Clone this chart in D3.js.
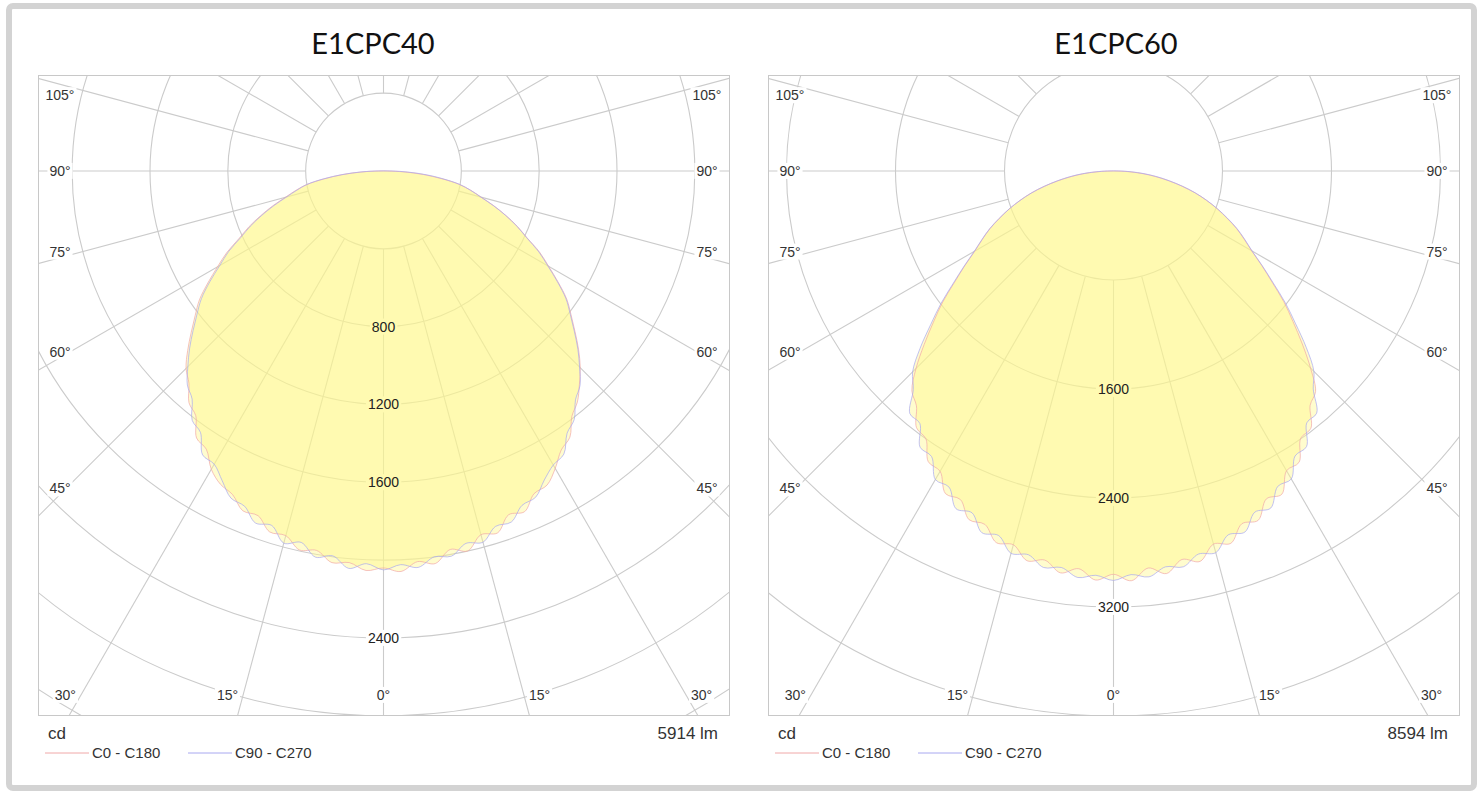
<!DOCTYPE html>
<html>
<head>
<meta charset="utf-8">
<script src="https://cdn.jsdelivr.net/npm/d3@7"></script>
<style>
  body { margin: 0; background: #fff; }
  text { font-family: "Liberation Sans", Arial, sans-serif; }
</style>
</head>
<body>
<script>
// gamma angles (deg), 0 = straight down, negative = left half
const gammas = [-90,-87.5,-85,-82.5,-80,-77.5,-75,-72.5,-70,-67.5,-65,-62.5,-60,-57.5,-55,-52.5,-50,-47.5,-45,-42.5,-40,-37.5,-35,-32.5,-30,-27.5,-25,-22.5,-20,-17.5,-15,-12.5,-10,-7.5,-5,-2.5,
  0,2.5,5,7.5,10,12.5,15,17.5,20,22.5,25,27.5,30,32.5,35,37.5,40,42.5,45,47.5,50,52.5,55,57.5,60,62.5,65,67.5,70,72.5,75,77.5,80,82.5,85,87.5,90]

const titles = ["E1CPC40", "E1CPC60"]
const lumens = ["5914 lm", "8594 lm"]
const seriesNames = ["C0 - C180", "C90 - C270"]
const seriesColors = ["#f0a8a8", "#a8a8f0"]

// E1CPC40, cd
const e40_c0 = [25,110,210,305,400,462,522,598,672,748,818,908,985,1070,1155,1220,1290,1365,1435,1480,1555,1585,1675,1695,1770,1815,1835,1890,1885,1945,1940,1995,1980,2030,2020,2055,
  2040,2060,2015,2035,1975,2000,1935,1950,1880,1895,1830,1820,1765,1700,1670,1590,1550,1490,1430,1360,1285,1215,1150,1065,980,905,815,745,670,595,520,460,395,300,205,105,20]
const e40_c90 = [40,120,215,312,400,456,516,590,665,740,810,898,972,1058,1142,1208,1278,1352,1422,1492,1530,1615,1640,1730,1740,1795,1855,1865,1925,1910,1980,1955,2015,1995,2050,2020,
  2050,2025,2045,2000,2010,1960,1975,1915,1920,1860,1850,1790,1745,1725,1645,1610,1535,1495,1425,1355,1280,1210,1145,1060,975,900,812,742,668,592,518,458,398,310,220,125,45]

// E1CPC60, cd
const e60_c0 = [25,110,215,312,415,520,625,720,815,905,1000,1085,1175,1295,1425,1580,1725,1885,2050,2190,2250,2375,2400,2530,2545,2670,2660,2770,2760,2860,2840,2930,2900,2975,2930,3005,
  2960,3010,2925,2980,2895,2935,2835,2865,2755,2775,2655,2675,2540,2535,2395,2380,2245,2195,2045,1880,1720,1575,1420,1290,1170,1080,995,900,810,715,620,515,410,310,210,105,20]
const e60_c90 = [45,125,228,325,420,522,624,720,815,908,1003,1088,1180,1300,1435,1595,1750,1925,2085,2175,2325,2335,2475,2485,2615,2615,2735,2715,2825,2805,2905,2885,2955,2935,2995,2970,
  3005,2965,2990,2930,2950,2880,2900,2800,2820,2710,2730,2610,2610,2480,2470,2330,2320,2170,2080,1920,1745,1590,1430,1295,1175,1085,1000,905,812,718,622,520,418,322,225,130,50]

const rings40 = [400,800,1200,1600,2000,2400,2800,3200,3600]
const rings60 = [800,1600,2400,3200,4000,4800]
const ringLabels40 = [800,1200,1600,2400]
const ringLabels60 = [1600,2400,3200]
const spokeAngles = [0,15,30,45,60,75,90,105,120,135,150,165,180,195,210,225,240,255,270,285,300,315,330,345]
const sideAngles = [105,90,75,60,45]
const bottomAngles = [30,15,0]

const charts = [
  {title: titles[0], lm: lumens[0], series: [e40_c0, e40_c90], rings: rings40, labels: ringLabels40, ref: 2400, refPx: 467, x0: 38, titleX: 373},
  {title: titles[1], lm: lumens[1], series: [e60_c0, e60_c90], rings: rings60, labels: ringLabels60, ref: 3200, refPx: 436, x0: 768, titleX: 1116}
]

const W = 1482, H = 793
const frameY = 75, frameW = 691, frameH = 640, centerY = 171

const svg = d3.select("body").append("svg")
    .attr("width", W)
    .attr("height", H)

svg.append("rect")
    .attr("x", 9).attr("y", 6)
    .attr("width", 1465).attr("height", 782)
    .attr("rx", 4)
    .style("fill", "none")
    .style("stroke", "#d3d3d3")
    .style("stroke-width", 6)

const defs = svg.append("defs")

charts.forEach(drawChart)

function drawChart(c, i) {
  const x0 = c.x0, y1 = frameY + frameH
  const cx = x0 + frameW / 2, cy = centerY
  const r = d3.scaleLinear().domain([0, c.ref]).range([0, c.refPx])
  const toRad = Math.PI / 180

  defs.append("clipPath").attr("id", `clip${i}`)
    .append("rect").attr("x", x0).attr("y", frameY).attr("width", frameW).attr("height", frameH)
  const mask = defs.append("mask").attr("id", `mask${i}`)
      .attr("maskUnits", "userSpaceOnUse")
      .attr("x", 0).attr("y", 0).attr("width", W).attr("height", H)
  mask.append("rect").attr("x", 0).attr("y", 0).attr("width", W).attr("height", H).style("fill", "#fff")

  const g = svg.append("g")

  g.append("text")
      .attr("x", c.titleX).attr("y", 54)
      .attr("text-anchor", "middle")
      .style("font-family", "Lato, 'Open Sans', sans-serif")
      .style("font-size", "29px")
      .style("fill", "#111")
      .text(c.title)

  const grid = g.append("g").attr("clip-path", `url(#clip${i})`)
    .append("g").attr("mask", `url(#mask${i})`)

  grid.selectAll("circle")
    .data(c.rings)
    .enter()
    .append("circle")
      .attr("cx", cx).attr("cy", cy)
      .attr("r", function (d) { return r(d) })
      .style("fill", "none")
      .style("stroke", "#cbcbcb")
      .style("stroke-width", 1.1)

  const inner = r(c.rings[0])
  grid.selectAll("line")
    .data(spokeAngles)
    .enter()
    .append("line")
      .attr("x1", function (d) { return cx + inner * Math.sin(d * toRad) })
      .attr("y1", function (d) { return cy + inner * Math.cos(d * toRad) })
      .attr("x2", function (d) { return cx + 1000 * Math.sin(d * toRad) })
      .attr("y2", function (d) { return cy + 1000 * Math.cos(d * toRad) })
      .style("stroke", "#cbcbcb")
      .style("stroke-width", 1.1)

  // luminous intensity curves
  const curve = d3.lineRadial()
      .angle(function (d) { return Math.PI - d.g * toRad })
      .radius(function (d) { return r(d.v) })
      .curve(d3.curveCatmullRomClosed.alpha(0.5))

  const paths = c.series.map(function (vals) {
    return curve(gammas.map(function (gm, k) { return {g: gm, v: vals[k]} }))
  })

  paths.forEach(function (p) {
    g.append("path")
        .attr("transform", `translate(${cx},${cy})`)
        .attr("d", p)
        .style("fill", "#fff88a")
        .style("fill-opacity", 0.42)
        .style("stroke", "none")
  })
  paths.forEach(function (p, k) {
    g.append("path")
        .attr("transform", `translate(${cx},${cy})`)
        .attr("d", p)
        .style("fill", "none")
        .style("stroke", seriesColors[k])
        .style("stroke-width", 0.7)
  })

  g.append("rect")
      .attr("x", x0 + 0.5).attr("y", frameY + 0.5)
      .attr("width", frameW).attr("height", frameH)
      .style("fill", "none")
      .style("stroke", "#c8c8c8")

  const holes = []

  // value labels on the 0 deg axis
  g.selectAll("text.val")
    .data(c.labels)
    .enter()
    .append("text")
      .attr("class", "val")
      .attr("x", cx)
      .attr("y", function (d) { return cy + r(d) })
      .attr("dy", "0.35em")
      .attr("text-anchor", "middle")
      .style("font-size", "14px")
      .style("fill", "#222")
      .text(function (d) { return d })
      .each(function () { holes.push(this.getBBox()) })

  // angle labels round the frame
  const angleLabels = []
  sideAngles.forEach(function (a) {
    angleLabels.push({a: a, side: -1})
    angleLabels.push({a: a, side: 1})
  })
  bottomAngles.forEach(function (a) {
    angleLabels.push({a: a, side: -1})
    if (a !== 0) angleLabels.push({a: a, side: 1})
  })

  angleLabels.forEach(function (d) {
    const sx = Math.sin(d.a * toRad), sy = Math.cos(d.a * toRad)
    const limX = frameW / 2 - 22, limY = y1 - 20 - cy
    let t = sx > 1e-6 ? limX / sx : Infinity
    let onSide = true
    if (t * sy > limY) { t = limY / sy; onSide = false }
    let px = cx + d.side * t * sx, py = cy + t * sy
    let anchor = "middle"
    if (onSide) {
      py += d.a < 90 ? -6 : (d.a > 90 ? 11 : 0)
    } else if (d.a !== 0) {
      anchor = d.side < 0 ? "end" : "start"
      px += d.side * 5
    }
    g.append("text")
        .attr("x", px).attr("y", py)
        .attr("dy", "0.35em")
        .attr("text-anchor", anchor)
        .style("font-size", "14px")
        .style("fill", "#333")
        .text(`${d.a}°`)
        .each(function () { holes.push(this.getBBox()) })
  })

  holes.forEach(function (b) {
    mask.append("rect")
        .attr("x", b.x - 2).attr("y", b.y)
        .attr("width", b.width + 4).attr("height", b.height)
        .style("fill", "#000")
  })

  // footer
  g.append("text")
      .attr("x", x0 + 10).attr("y", 733)
      .attr("dy", "0.35em")
      .style("font-size", "17px")
      .style("fill", "#333")
      .text("cd")
  g.append("text")
      .attr("x", x0 + frameW - 11).attr("y", 733)
      .attr("dy", "0.35em")
      .attr("text-anchor", "end")
      .style("font-size", "17px")
      .style("fill", "#333")
      .text(c.lm)

  const legX = [x0 + 7, x0 + 150]
  seriesNames.forEach(function (name, k) {
    g.append("line")
        .attr("x1", legX[k]).attr("x2", legX[k] + 44)
        .attr("y1", 753).attr("y2", 753)
        .style("stroke", seriesColors[k])
        .style("stroke-width", 1)
    g.append("text")
        .attr("x", legX[k] + 47).attr("y", 753)
        .attr("dy", "0.35em")
        .style("font-size", "15px")
        .style("fill", "#333")
        .text(name)
  })
}
</script>
</body>
</html>
